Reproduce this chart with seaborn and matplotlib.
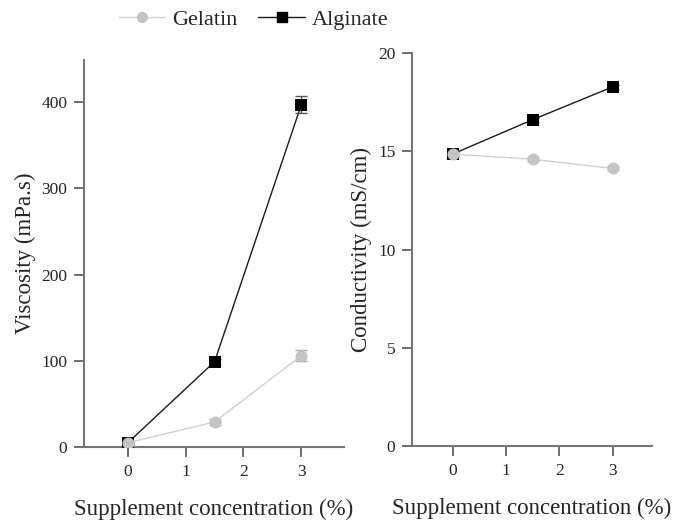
import numpy as np
import pandas as pd
import matplotlib
matplotlib.use("Agg")
import matplotlib.pyplot as plt
import seaborn as sns
from matplotlib.lines import Line2D

sns.set_style("ticks")
plt.rcParams['font.family'] = ['Liberation Serif', 'DejaVu Serif']

concentration = [0, 1.5, 3]
series = ["Gelatin", "Alginate"]
visc_gelatin = [5, 29, 106]
visc_alginate = [5, 99, 397]
visc_gelatin_err = [1, 3, 6]
visc_alginate_err = [1, 3, 10]
cond_gelatin = [14.86, 14.6, 14.13]
cond_alginate = [14.86, 16.61, 18.28]
cond_gelatin_err = [0.1, 0.1, 0.1]
cond_alginate_err = [0.1, 0.1, 0.1]
x_ticks = [0, 1, 2, 3]
visc_ticks = [0, 100, 200, 300, 400]
cond_ticks = [0, 5, 10, 15, 20]

colors = {"Gelatin": "#c4c4c4", "Alginate": "#000000"}
line_colors = {"Gelatin": "#cfcfcf", "Alginate": "#1a1a1a"}
markers = {"Gelatin": "o", "Alginate": "s"}

visc_df = pd.DataFrame({
    "conc": concentration * 2,
    "value": visc_alginate + visc_gelatin,
    "err": visc_alginate_err + visc_gelatin_err,
    "series": ["Alginate"] * 3 + ["Gelatin"] * 3,
})
cond_df = pd.DataFrame({
    "conc": concentration * 2,
    "value": cond_alginate + cond_gelatin,
    "err": cond_alginate_err + cond_gelatin_err,
    "series": ["Alginate"] * 3 + ["Gelatin"] * 3,
})

fig = plt.figure(figsize=(6.78, 5.26), dpi=100)
ax1 = fig.add_axes([0.1239, 0.1502, 0.3835, 0.7357])
ax2 = fig.add_axes([0.6077, 0.152, 0.354, 0.747])

def draw(ax, df, ylim, yticks, ylabel):
    for s in ["Alginate", "Gelatin"]:
        sub = df[df.series == s]
        sns.lineplot(data=sub, x="conc", y="value", ax=ax, color=line_colors[s],
                     linewidth=1.0, legend=False, zorder=2)
        ax.errorbar(sub["conc"], sub["value"], yerr=sub["err"], fmt="none",
                    ecolor="#555555" if s == "Alginate" else "#aaaaaa",
                    elinewidth=1, capsize=4, zorder=2.5)
        sns.scatterplot(data=sub, x="conc", y="value", ax=ax, color=colors[s],
                        marker=markers[s], s=80 if s == "Alginate" else 75,
                        edgecolor=colors[s], linewidth=0, legend=False, zorder=3)
    ax.set_xlim(-0.76, 3.74)
    ax.set_ylim(*ylim)
    ax.set_xticks(x_ticks)
    ax.set_yticks(yticks)
    ax.set_xlabel("Supplement concentration (%)", fontsize=16.5, labelpad=14)
    ax.set_ylabel(ylabel, fontsize=16.5, labelpad=4)
    sns.despine(ax=ax)
    for sp in ["left", "bottom"]:
        ax.spines[sp].set_color("#777777")
        ax.spines[sp].set_linewidth(1.5)
    ax.tick_params(axis="both", length=7, width=1.2, color="#555555",
                   labelsize=12.5, pad=5)

draw(ax1, visc_df, (0, 449), visc_ticks, "Viscosity (mPa.s)")
draw(ax2, cond_df, (0, 20), cond_ticks, "Conductivity (mS/cm)")

handles = [
    Line2D([], [], color=line_colors[s], marker=markers[s], markersize=7,
           markerfacecolor=colors[s], markeredgecolor=colors[s], linewidth=1.0)
    for s in series
]
fig.legend(handles, series, loc="upper left", bbox_to_anchor=(0.152, 1.012),
           ncol=2, frameon=False, fontsize=16, handlelength=2.1,
           columnspacing=0.95, handletextpad=0.3, borderpad=0.2)

fig.savefig("out.png", dpi=100)
